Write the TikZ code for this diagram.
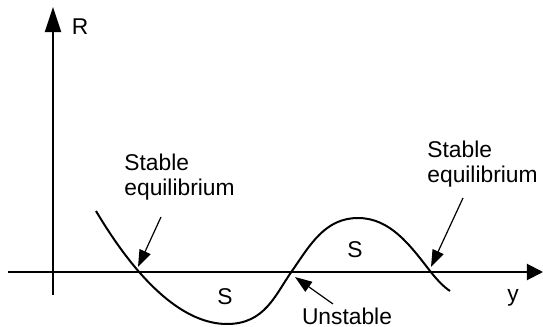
\documentclass[tikz,border=0pt]{standalone}
\usepackage{fontspec}
\setmainfont{Liberation Sans}
\usetikzlibrary{arrows.meta}
\begin{document}
\begin{tikzpicture}[x=0.5pt,y=-0.5pt,
  axis/.style={line width=1pt},
  curve/.style={line width=1pt},
  pointer/.style={line width=0.6pt,-{Triangle[length=8.5pt,width=6pt]}},
  lbl/.style={font=\fontsize{11.4}{12.5}\selectfont,inner sep=0pt,align=left}]
\useasboundingbox (0,0) rectangle (543,327);
% axes
\coordinate (vb) at (53,295);
\coordinate (vt) at (53,7);
\coordinate (hl) at (8,272);
\coordinate (hr) at (543,272);
\draw[axis,-{Triangle[length=12.5pt,width=8pt]}] (vb) -- (vt);
\draw[axis,-{Triangle[length=8pt,width=8pt]}] (hl) -- (hr);
\node[lbl] (R) at (80,27) {R};
\node[lbl] (y) at (513,298) {y};
% curve
\draw[curve] (96,211) .. controls (140,285) and (185,324) .. (227,324)
  .. controls (265,324) and (275,295) .. (292,271)
  .. controls (310,245) and (325,218) .. (358,218)
  .. controls (390,218) and (410,245) .. (430,271)
  .. controls (438,281) and (444,287) .. (450,291);
% labels
\node[lbl,anchor=west] (s1) at (124,177) {Stable\\equilibrium};
\node[lbl,anchor=west] (s2) at (427,164) {Stable\\equilibrium};
\node[lbl] (S1) at (225,297) {S};
\node[lbl] (S2) at (355,250) {S};
\node[lbl] (un) at (347,316) {Unstable};
% pointers
\coordinate (a1s) at (161,217);
\coordinate (a1e) at (138,267);
\coordinate (a2s) at (463,198);
\coordinate (a2e) at (431,267);
\coordinate (a3s) at (333,304);
\coordinate (a3e) at (295,277);
\draw[pointer] (a1s) -- (a1e);
\draw[pointer] (a2s) -- (a2e);
\draw[pointer] (a3s) -- (a3e);
\end{tikzpicture}
\end{document}
